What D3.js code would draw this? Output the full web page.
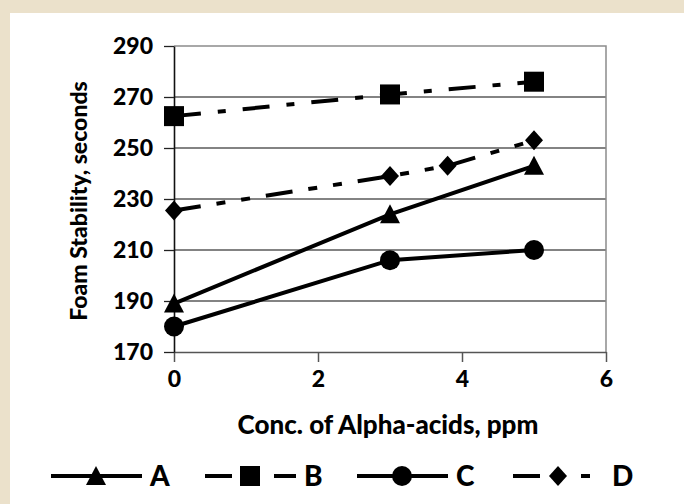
<!DOCTYPE html>
<html>
<head>
<meta charset="utf-8">
<script src="https://cdn.jsdelivr.net/npm/d3@7"></script>
<style>
  body { margin: 0; background: #ebe1cb; }
  svg { display: block; }
  text { font-family: Lato, "Open Sans", sans-serif; font-weight: 900; fill: #000; }
</style>
</head>
<body>
<div id="chart"></div>
<script>

// values
const concABC = [0, 3, 5];
const concD = [0, 3, 3.8, 5];
const valsA = [189, 224, 243];
const valsB = [262.5, 271, 276];
const valsC = [180, 206, 210];
const valsD = [225.5, 239, 243, 253];

const seriesNames = ['A', 'B', 'C', 'D'];
const seriesMarkers = ['triangle', 'square', 'circle', 'diamond'];
const seriesDash = [null, '27 17 8 17', null, '27 16 9 16 9 16'];

const xTicks = [0, 2, 4, 6];
const yTicks = [170, 190, 210, 230, 250, 270, 290];

const yTitle = 'Foam Stability, seconds';
const xTitle = 'Conc. of Alpha-acids, ppm';

const W = 684, H = 504;
const plotLeft = 174, plotRight = 606, plotTop = 46, plotBottom = 352;

let svg = d3.select('#chart')
            .append('svg')
            .attr('width', W)
            .attr('height', H);

// beige frame, white panel
svg.append('rect')
  .attr('width', W).attr('height', H)
  .attr('fill', '#ebe1cb');
svg.append('rect')
  .attr('x', 10).attr('y', 13)
  .attr('width', W - 10).attr('height', H - 13)
  .attr('fill', '#ffffff');

let x = d3.scaleLinear().domain([0, 6]).range([plotLeft, plotRight]);
let y = d3.scaleLinear().domain([170, 290]).range([plotBottom, plotTop]);

// gridlines
svg.append('g')
  .selectAll('line')
  .data(yTicks.slice(1, -1))
  .join('line')
  .attr('x1', plotLeft).attr('x2', plotRight)
  .attr('y1', d => y(d)).attr('y2', d => y(d))
  .attr('stroke', '#5a5a5a')
  .attr('stroke-width', 1.3);

// top and right border of plot area
svg.append('path')
  .attr('d', `M${plotLeft},${y(290)}H${plotRight}V${plotBottom}`)
  .attr('fill', 'none')
  .attr('stroke', '#8c8c8c')
  .attr('stroke-width', 1.5);

// x axis
let xAxis = svg.append('g')
  .attr('transform', `translate(0,${plotBottom})`)
  .call(d3.axisBottom(x).tickValues(xTicks).tickFormat(d3.format('d'))
          .tickSize(10).tickSizeOuter(0).tickPadding(9));
xAxis.select('.domain').attr('stroke', '#555').attr('stroke-width', 1.6);
xAxis.selectAll('.tick line').attr('stroke', '#555').attr('stroke-width', 1.5);
xAxis.selectAll('.tick text')
  .attr('font-size', 23)
  .attr('font-family', 'Lato, sans-serif');

// y axis
let yAxis = svg.append('g')
  .attr('transform', `translate(${plotLeft},0)`)
  .call(d3.axisLeft(y).tickValues(yTicks).tickSize(10).tickSizeOuter(0).tickPadding(11));
yAxis.select('.domain').attr('stroke', '#111').attr('stroke-width', 1.6);
yAxis.selectAll('.tick line').attr('stroke', '#222').attr('stroke-width', 1.3);
yAxis.selectAll('.tick text')
  .attr('font-size', 23)
  .attr('font-family', 'Lato, sans-serif');

// axis titles
svg.append('text')
  .attr('transform', `translate(87,${(plotTop + plotBottom) / 2 + 2}) rotate(-90)`)
  .attr('text-anchor', 'middle')
  .attr('font-size', 23)
  .text(yTitle);

svg.append('text')
  .attr('x', (plotLeft + plotRight) / 2 - 2)
  .attr('y', 434)
  .attr('text-anchor', 'middle')
  .attr('font-size', 26)
  .text(xTitle);

function drawMarker(g, kind, cx, cy) {
  if (kind == 'circle') {
    g.append('circle').attr('cx', cx).attr('cy', cy).attr('r', 10).attr('fill', '#000');
  } else if (kind == 'square') {
    g.append('rect').attr('x', cx - 10).attr('y', cy - 10).attr('width', 20).attr('height', 20).attr('fill', '#000');
  } else if (kind == 'triangle') {
    g.append('path').attr('d', `M${cx},${cy - 10}L${cx + 10},${cy + 9}L${cx - 10},${cy + 9}Z`).attr('fill', '#000');
  } else {
    g.append('path').attr('d', `M${cx},${cy - 10}L${cx + 9},${cy}L${cx},${cy + 10}L${cx - 9},${cy}Z`).attr('fill', '#000');
  }
}

let seriesX = [concABC, concABC, concABC, concD];
let seriesY = [valsA, valsB, valsC, valsD];

let line = d3.line().x(d => x(d[0])).y(d => y(d[1]));

for (let i = 0; i < seriesNames.length; i++) {
  let pts = seriesX[i].map((c, j) => [c, seriesY[i][j]]);
  let g = svg.append('g');
  g.append('path')
    .attr('d', line(pts))
    .attr('fill', 'none')
    .attr('stroke', '#000')
    .attr('stroke-width', 4)
    .attr('stroke-dasharray', seriesDash[i]);
  pts.forEach(p => drawMarker(g, seriesMarkers[i], x(p[0]), y(p[1])));
}

// legend
let legX = [51, 205, 357, 513];
let legY = 476;
for (let i = 0; i < seriesNames.length; i++) {
  let g = svg.append('g');
  g.append('line')
    .attr('x1', legX[i]).attr('x2', legX[i] + 91)
    .attr('y1', legY).attr('y2', legY)
    .attr('stroke', '#000')
    .attr('stroke-width', 4)
    .attr('stroke-dasharray', seriesDash[i]);
  drawMarker(g, seriesMarkers[i], legX[i] + 45, legY);
  g.append('text')
    .attr('x', legX[i] + 99)
    .attr('y', legY + 10)
    .attr('font-size', 28)
    .text(seriesNames[i]);
}

</script>
</body>
</html>
